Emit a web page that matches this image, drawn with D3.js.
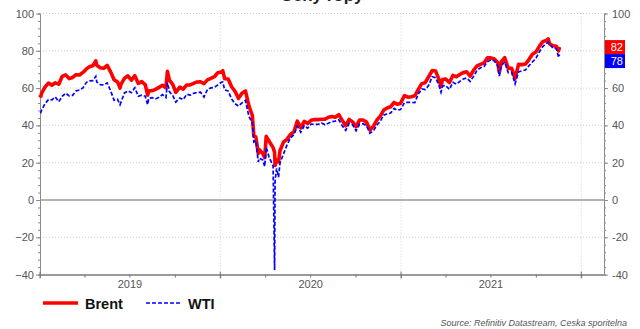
<!DOCTYPE html>
<html>
<head>
<meta charset="utf-8">
<script src="https://cdn.jsdelivr.net/npm/d3@7"></script>
<style>
  html, body { margin: 0; padding: 0; background: #fff; }
  svg { display: block; font-family: "Liberation Sans", Arial, sans-serif; }
</style>
</head>
<body>
<svg id="chart" width="640" height="329"></svg>
<script>
// Oil prices, USD per barrel
const dates = [
  "2019-01-02","2019-01-04","2019-01-11","2019-01-18","2019-01-25","2019-02-01","2019-02-08","2019-02-15","2019-02-22",
  "2019-03-01","2019-03-08","2019-03-15","2019-03-22","2019-03-29","2019-04-05","2019-04-12","2019-04-18","2019-04-24",
  "2019-04-26","2019-05-03","2019-05-10","2019-05-17","2019-05-24","2019-05-31","2019-06-07","2019-06-12","2019-06-14",
  "2019-06-21","2019-06-28","2019-07-05","2019-07-12","2019-07-19","2019-07-26","2019-08-02","2019-08-07","2019-08-09",
  "2019-08-16","2019-08-23","2019-08-30","2019-09-06","2019-09-13","2019-09-16","2019-09-20","2019-09-27","2019-10-03",
  "2019-10-11","2019-10-18","2019-10-25","2019-11-01","2019-11-08","2019-11-15","2019-11-22","2019-11-29","2019-12-06",
  "2019-12-13","2019-12-20","2019-12-27",
  "2020-01-03","2020-01-06","2020-01-10","2020-01-17","2020-01-24","2020-01-31","2020-02-07","2020-02-14","2020-02-21",
  "2020-02-28","2020-03-06","2020-03-09","2020-03-13","2020-03-18","2020-03-20","2020-03-27","2020-03-31","2020-04-03",
  "2020-04-09","2020-04-17","2020-04-20","2020-04-21","2020-04-24","2020-04-28","2020-05-01","2020-05-08","2020-05-15",
  "2020-05-22","2020-05-29","2020-06-05","2020-06-12","2020-06-19","2020-06-26","2020-07-03","2020-07-10","2020-07-17",
  "2020-07-24","2020-07-31","2020-08-07","2020-08-14","2020-08-21","2020-08-28","2020-09-04","2020-09-11","2020-09-18",
  "2020-09-25","2020-10-02","2020-10-09","2020-10-16","2020-10-23","2020-10-30","2020-11-06","2020-11-13","2020-11-20",
  "2020-11-27","2020-12-04","2020-12-11","2020-12-18","2020-12-24","2020-12-31",
  "2021-01-08","2021-01-15","2021-01-22","2021-01-29","2021-02-05","2021-02-12","2021-02-19","2021-02-26","2021-03-05",
  "2021-03-12","2021-03-19","2021-03-23","2021-03-26","2021-04-01","2021-04-09","2021-04-16","2021-04-23","2021-04-30",
  "2021-05-07","2021-05-14","2021-05-21","2021-05-28","2021-06-04","2021-06-11","2021-06-18","2021-06-25","2021-07-02",
  "2021-07-09","2021-07-16","2021-07-19","2021-07-23","2021-07-30","2021-08-06","2021-08-13","2021-08-20","2021-08-27",
  "2021-09-03","2021-09-10","2021-09-17","2021-09-24","2021-10-01","2021-10-08","2021-10-15","2021-10-22","2021-10-26",
  "2021-10-29","2021-11-05","2021-11-10","2021-11-12","2021-11-16","2021-11-18"
];

const brent = [
  54.9,57.1,60.5,62.7,61.6,62.8,62.1,66.3,67.1,
  65.1,65.7,67.2,67.0,68.4,70.3,71.6,72.0,74.6,
  72.2,70.9,70.6,72.2,68.7,64.5,63.3,60.0,62.0,
  65.2,66.6,64.2,66.7,62.5,63.5,61.9,56.2,58.5,
  58.6,59.3,60.4,61.5,60.2,69.0,64.3,61.9,57.7,
  60.5,59.4,61.7,61.7,62.5,63.3,63.4,62.4,64.4,
  65.2,66.1,68.2,
  68.6,69.3,65.0,64.9,60.7,58.2,54.5,57.3,58.5,
  50.5,45.3,34.4,33.9,25.0,27.0,24.9,22.7,34.1,
  31.5,28.1,25.6,18.5,21.4,20.5,26.4,31.0,32.5,
  35.1,36.5,42.3,38.7,42.2,41.0,42.8,43.2,43.1,
  43.3,43.3,44.4,44.8,44.4,45.8,42.7,39.8,43.2,
  41.9,39.3,42.9,42.9,41.8,37.5,39.5,42.8,45.0,
  48.2,49.3,50.0,52.3,51.3,51.8,
  56.0,55.1,55.4,55.9,59.3,62.4,62.9,66.1,69.4,
  69.2,64.5,60.8,64.6,64.9,63.0,66.8,66.1,67.3,
  68.3,68.7,66.4,69.6,71.9,72.7,73.5,76.2,76.2,
  75.6,73.6,68.6,74.1,76.3,70.7,70.6,65.2,72.7,
  72.6,72.9,75.3,78.1,79.3,82.4,84.9,85.5,86.4,
  83.7,82.7,82.6,82.2,80.0,82.0
];

const wti = [
  46.5,48.0,51.6,53.8,53.7,55.3,52.7,55.6,57.3,
  55.8,56.1,58.5,59.0,60.1,63.1,63.9,64.0,66.3,
  63.3,61.9,61.7,62.8,58.6,53.5,54.0,51.1,52.5,
  57.4,58.5,57.5,60.2,55.6,56.2,55.7,51.1,54.5,
  54.9,54.2,55.1,56.5,54.9,62.9,58.1,55.9,52.5,
  54.7,53.8,56.7,56.2,57.2,57.7,57.8,55.2,59.2,
  60.1,60.4,61.7,
  63.1,63.3,59.0,58.5,54.2,51.6,50.3,52.1,53.4,
  44.8,41.3,31.1,31.7,20.4,22.4,21.5,18.0,28.3,
  22.8,18.3,-37.6,10.0,16.9,12.3,19.8,24.7,29.4,
  33.3,35.0,39.6,36.3,39.8,38.5,40.7,40.6,40.6,
  41.3,40.3,41.2,42.0,42.3,43.0,39.8,37.3,41.1,
  40.3,37.1,40.6,40.9,39.9,35.8,37.1,40.1,42.2,
  45.5,46.3,46.6,49.1,48.2,48.5,
  52.2,52.4,52.3,52.2,56.9,59.5,59.2,61.5,66.1,
  65.6,61.4,57.8,61.0,61.5,59.3,63.1,62.1,63.6,
  64.9,65.4,63.6,66.3,69.6,70.9,71.6,74.1,75.2,
  74.6,71.8,66.4,72.1,74.0,68.3,68.4,62.3,68.7,
  69.3,69.7,72.0,74.0,75.9,79.4,82.3,83.8,84.7,
  83.6,81.3,81.3,80.8,76.5,78.0
];

const yMajorTicks = [-40, -20, 0, 20, 40, 60, 80, 100];
const yearLabels = ["2019", "2020", "2021"];
const seriesNames = ["Brent", "WTI"];
const seriesColors = ["#ff0000", "#0000ff"];
const lastValues = [82, 78];

const parse = d3.utcParse("%Y-%m-%d");
const rows = dates.map((d, i) => ({ date: parse(d), brent: brent[i], wti: wti[i] }));

const svg = d3.select("#chart");
const plotLeft = 40, plotRight = 604, plotTop = 13.5, plotBottom = 274.6;

const x = d3.scaleUtc()
  .domain([parse("2019-01-01"), parse("2022-02-16")])
  .range([plotLeft, plotRight]);
const y = d3.scaleLinear().domain([-40, 100]).range([plotBottom, plotTop]);

// Positions of the last-value boxes, stacked so they do not collide
const boxH = 14;
const boxTops = [];
lastValues.forEach((v, i) => {
  let t = y(v) - boxH / 2;
  if (i > 0 && t < boxTops[i - 1] + boxH) t = boxTops[i - 1] + boxH;
  boxTops.push(t);
});
const boxSpan = [boxTops[0], boxTops[boxTops.length - 1] + boxH];

// Title (partly above the visible area)
svg.append("text")
  .attr("x", 322).attr("y", 1)
  .attr("text-anchor", "middle")
  .attr("font-weight", "bold").attr("font-size", 17).attr("fill", "#222")
  .text("Ceny ropy");

// Gridlines
const grid = svg.append("g");
grid.selectAll("line.h")
  .data(yMajorTicks.filter(v => v !== 0 && v !== -40))
  .join("line")
  .attr("x1", plotLeft).attr("x2", plotRight)
  .attr("y1", d => y(d)).attr("y2", d => y(d))
  .attr("stroke", "#cfcfcf").attr("stroke-width", 1).attr("stroke-dasharray", "1,2");

const yearStarts = d3.utcYear.range(parse("2019-01-01"), parse("2022-06-01"));
grid.selectAll("line.v")
  .data(yearStarts.slice(1))
  .join("line")
  .attr("x1", d => x(d)).attr("x2", d => x(d))
  .attr("y1", plotTop).attr("y2", plotBottom)
  .attr("stroke", "#cfcfcf").attr("stroke-width", 1).attr("stroke-dasharray", "1,2");

// Zero line
svg.append("line")
  .attr("x1", plotLeft).attr("x2", plotRight)
  .attr("y1", y(0)).attr("y2", y(0))
  .attr("stroke", "#9a9a9a").attr("stroke-width", 1.5);

// Y axes
const minorY = d3.range(-40, 100.1, 4);
function styleAxis(g) {
  g.select(".domain").attr("stroke", "#8a8a8a");
  g.selectAll(".tick line").attr("stroke", "#8a8a8a");
  g.selectAll(".tick text").attr("fill", "#555").attr("font-size", 11)
    .attr("font-family", "Liberation Sans, Arial, sans-serif");
}
svg.append("g").attr("transform", `translate(${plotLeft},0)`)
  .call(d3.axisLeft(y).tickValues(minorY).tickSize(2).tickFormat(""))
  .call(styleAxis);
svg.append("g").attr("transform", `translate(${plotLeft},0)`)
  .call(d3.axisLeft(y).tickValues(yMajorTicks).tickSize(4).tickPadding(2).tickSizeOuter(0))
  .call(styleAxis);
svg.append("g").attr("transform", `translate(${plotRight},0)`)
  .call(d3.axisRight(y).tickValues(minorY).tickSize(2).tickFormat(""))
  .call(styleAxis);
// Right-hand labels give way to the last-value boxes
svg.append("g").attr("transform", `translate(${plotRight},0)`)
  .call(d3.axisRight(y).tickValues(yMajorTicks).tickSize(4).tickPadding(4).tickSizeOuter(0)
    .tickFormat(v => (y(v) > boxSpan[0] - 6 && y(v) < boxSpan[1] + 6) ? "" : v))
  .call(styleAxis);

// X axis
const quarters = d3.utcMonth.every(3).range(parse("2019-01-01"), parse("2022-02-16"));
svg.append("g").attr("transform", `translate(0,${plotBottom})`)
  .call(d3.axisBottom(x).tickValues(quarters).tickSize(3).tickFormat("").tickSizeOuter(0))
  .call(g => {
    g.select(".domain").attr("stroke", "#9a9a9a").attr("stroke-width", 2);
    g.selectAll(".tick line").attr("stroke", "#777");
  });
svg.append("g").selectAll("line")
  .data(yearStarts.filter(d => x(d) <= plotRight))
  .join("line")
  .attr("x1", d => x(d)).attr("x2", d => x(d))
  .attr("y1", plotBottom - 3).attr("y2", plotBottom + 4)
  .attr("stroke", "#777");
svg.append("g").selectAll("text")
  .data(yearLabels)
  .join("text")
  .attr("x", d => x(parse(d + "-07-02")))
  .attr("y", 288)
  .attr("text-anchor", "middle")
  .attr("font-size", 11).attr("fill", "#555")
  .text(d => d);

// Series lines
const lineB = d3.line().x(d => x(d.date)).y(d => y(d.brent));
const lineW = d3.line().x(d => x(d.date)).y(d => y(d.wti));
svg.append("path").datum(rows)
  .attr("d", lineB).attr("fill", "none")
  .attr("stroke", seriesColors[0]).attr("stroke-width", 3.6)
  .attr("stroke-linejoin", "round");
svg.append("path").datum(rows)
  .attr("d", lineW).attr("fill", "none")
  .attr("stroke", seriesColors[1]).attr("stroke-width", 1.7)
  .attr("stroke-dasharray", "4,2");

// Last value boxes
lastValues.forEach((v, i) => {
  const t = boxTops[i];
  svg.append("rect")
    .attr("x", plotRight + 1).attr("y", t)
    .attr("width", 20).attr("height", boxH)
    .attr("fill", seriesColors[i]);
  svg.append("text")
    .attr("x", plotRight + 19).attr("y", t + boxH / 2 + 4)
    .attr("text-anchor", "end")
    .attr("font-size", 11).attr("fill", "#fff")
    .text(v);
});

// Legend
const legend = svg.append("g");
const legendX = [43, 146];
seriesNames.forEach((name, i) => {
  legend.append("line")
    .attr("x1", legendX[i]).attr("x2", legendX[i] + 35)
    .attr("y1", 303).attr("y2", 303)
    .attr("stroke", seriesColors[i])
    .attr("stroke-width", i === 0 ? 3.6 : 1.7)
    .attr("stroke-dasharray", i === 0 ? null : "4,2");
  legend.append("text")
    .attr("x", legendX[i] + 42).attr("y", 308.5)
    .attr("font-size", 14.5).attr("font-weight", "bold").attr("fill", "#111")
    .text(name);
});

// Source note
svg.append("text")
  .attr("x", 627).attr("y", 326)
  .attr("text-anchor", "end")
  .attr("font-size", 9).attr("font-style", "italic").attr("fill", "#555")
  .text("Source: Refinitiv Datastream, Ceska sporitelna");
</script>
</body>
</html>
